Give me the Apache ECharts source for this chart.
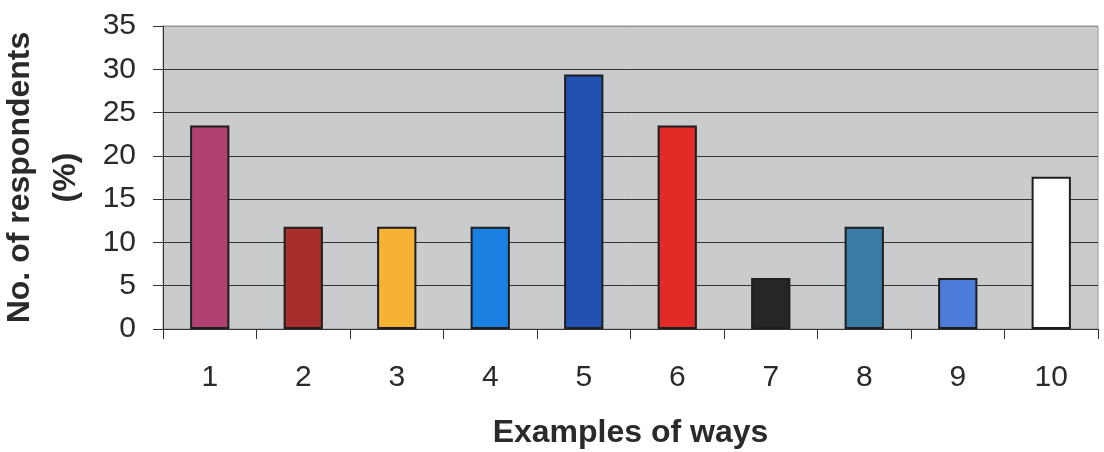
<!DOCTYPE html>
<html>
<head>
<meta charset="utf-8">
<script src="https://cdn.jsdelivr.net/npm/echarts@6/dist/echarts.min.js"></script>
<style>
html,body{margin:0;padding:0;background:#fff;}
#chart{width:1104px;height:452px;}
</style>
</head>
<body>
<div id="chart"></div>
<script>
const categories = ['1','2','3','4','5','6','7','8','9','10'];
const values = [23.5, 11.8, 11.8, 11.8, 29.4, 23.5, 5.9, 11.8, 5.9, 17.6];
const barColors = ['#b0406e','#a82e2c','#f6b232','#1a80e2','#2152b2','#e22a26','#262624','#3a7ca6','#4b7cda','#ffffff'];
const yTicks = [0, 5, 10, 15, 20, 25, 30, 35];

const chart = echarts.init(document.getElementById('chart'));
chart.setOption({
  animation: false,
  grid: {
    left: 163, right: 6, top: 26, bottom: 123,
    containLabel: false, outerBoundsMode: 'none',
    show: true, backgroundColor: '#c9cbcc', borderColor: '#8e9696', borderWidth: 1
  },
  xAxis: {
    type: 'category',
    data: categories,
    name: 'Examples of ways',
    nameLocation: 'middle',
    nameGap: 88,
    nameTextStyle: { fontFamily: 'Liberation Sans', fontWeight: 'bold', fontSize: 32, color: '#2a2a2a' },
    axisLine: { lineStyle: { color: '#333', width: 1 } },
    axisTick: { show: true, length: 10, lineStyle: { color: '#333' } },
    axisLabel: { fontFamily: 'Liberation Sans', fontSize: 30, color: '#2a2a2a', margin: 34 }
  },
  yAxis: {
    type: 'value',
    min: 0, max: 35, interval: 5,
    name: 'No. of respondents\n(%)',
    nameLocation: 'middle',
    nameGap: 74,
    nameRotate: 90,
    nameTextStyle: { fontFamily: 'Liberation Sans', fontWeight: 'bold', fontSize: 32, color: '#2a2a2a', lineHeight: 46, align: 'center' },
    axisLine: { show: true, lineStyle: { color: '#333', width: 1 } },
    axisTick: { show: true, length: 10, lineStyle: { color: '#333' } },
    axisLabel: {
      fontFamily: 'Liberation Sans', fontSize: 30, color: '#2a2a2a', margin: 27,
      formatter: function (v) { return yTicks.indexOf(v) >= 0 ? String(v) : ''; }
    },
    splitLine: { show: true, lineStyle: { color: ['#333','#333','#333','#333','#333','#333','#333','#8e9696'], width: 1 } }
  },
  series: [{
    type: 'bar',
    data: values.map((v, i) => ({ value: v, itemStyle: { color: barColors[i] } })),
    barWidth: '42%',
    itemStyle: { borderColor: '#1e1e1e', borderWidth: 2 }
  }]
});
</script>
</body>
</html>
